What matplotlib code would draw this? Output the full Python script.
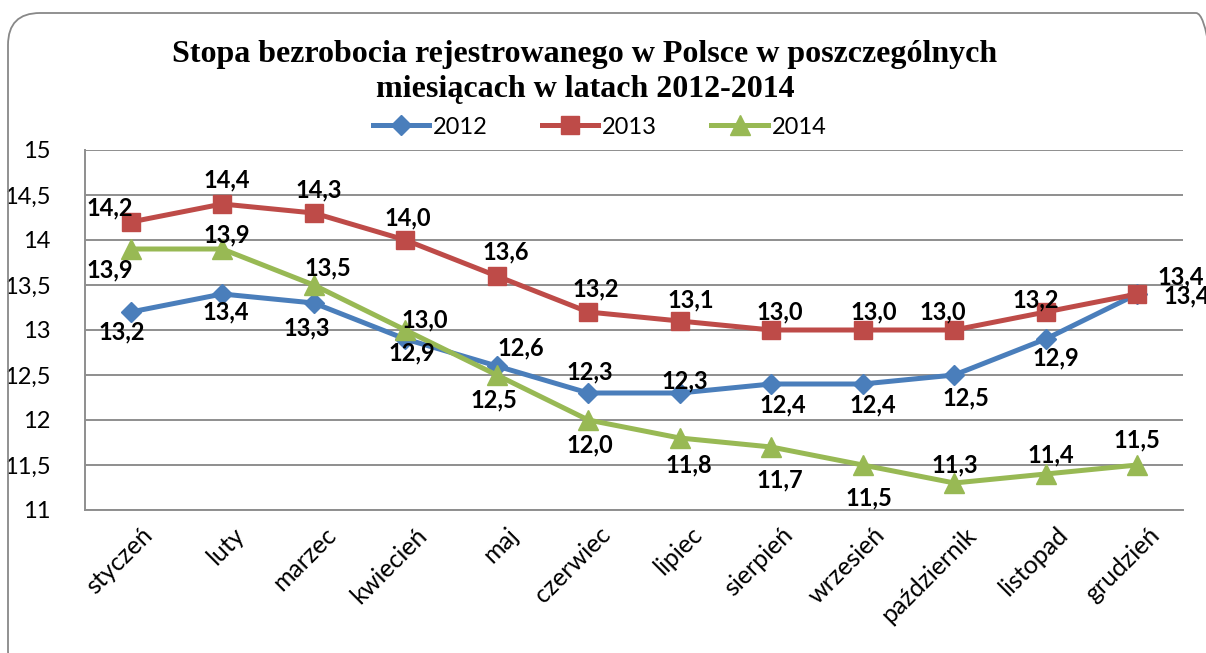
import matplotlib
matplotlib.use('Agg')
import matplotlib.pyplot as plt
import numpy as np
from matplotlib.patches import FancyBboxPatch
from matplotlib.transforms import ScaledTranslation

# dane: stopa bezrobocia [%]
months = ['styczeń', 'luty', 'marzec', 'kwiecień', 'maj', 'czerwiec', 'lipiec',
          'sierpień', 'wrzesień', 'październik', 'listopad', 'grudzień']
rate_2012 = [13.2, 13.4, 13.3, 12.9, 12.6, 12.3, 12.3, 12.4, 12.4, 12.5, 12.9, 13.4]
rate_2013 = [14.2, 14.4, 14.3, 14.0, 13.6, 13.2, 13.1, 13.0, 13.0, 13.0, 13.2, 13.4]
rate_2014 = [13.9, 13.9, 13.5, 13.0, 12.5, 12.0, 11.8, 11.7, 11.5, 11.3, 11.4, 11.5]
years = ['2012', '2013', '2014']
y_ticks = [11, 11.5, 12, 12.5, 13, 13.5, 14, 14.5, 15]

# przesunięcia etykiet danych w pikselach (dx w prawo, dy w dół)
off_2012 = [(-9, 20), (3, 18), (-7, 25), (7, 14), (24, -18), (2, -21),
            (5, -12), (12, 21), (10, 21), (12, 23), (10, 19), (49, 2)]
off_2013 = [(-21, -14), (4, -24), (5, -23), (3, -22), (9, -24), (8, -23),
            (11, -21), (9, -18), (11, -18), (-11, -18), (-10, -12), (43, -17)]
off_2014 = [(-21, 21), (5, -14), (14, -17), (20, -10), (-3, 25), (2, 25),
            (9, 27), (9, 33), (6, 33), (1, -18), (5, -19), (0, -25)]

blue = '#4A7EBB'
red = '#BE4B48'
green = '#98B954'
grid_c = '#8e8e8e'

plt.rcParams['font.family'] = ['Lato', 'DejaVu Sans']


def fmt(v):
    return ('%.1f' % v).replace('.', ',')


def fmt_tick(v):
    if float(v).is_integer():
        return '%d' % v
    return ('%.1f' % v).replace('.', ',')


fig = plt.figure(figsize=(12.06, 6.53), dpi=100, facecolor='w')
ax = fig.add_axes([85/1206, 1-510/653, (1183-85)/1206, 360/653])

x = np.arange(len(months))
series = [(rate_2012, blue, 'D', 10, off_2012),
          (rate_2013, red, 's', 13, off_2013),
          (rate_2014, green, '^', 14, off_2014)]

handles = []
for vals, col, mk, ms, offs in series:
    ln, = ax.plot(x, vals, color=col, lw=3.6, marker=mk, ms=ms,
                  mec=col, mfc=col, zorder=3, clip_on=False)
    handles.append(ln)
    for xi, v, (dx, dy) in zip(x, vals, offs):
        ax.annotate(fmt(v), (xi, v), xytext=(dx, -dy), textcoords='offset pixels',
                    ha='center', va='center', fontsize=17, fontweight='bold',
                    color='black', zorder=5, annotation_clip=False)

ax.set_xlim(-0.5, 11.5)
ax.set_ylim(11, 15)
ax.set_yticks(y_ticks)
ax.set_yticklabels([fmt_tick(t) for t in y_ticks])
ax.yaxis.grid(True, color=grid_c, lw=1.4)
ax.set_axisbelow(True)
ax.set_xticks(x)
ax.set_xticklabels(months, rotation=45, ha='right', va='top',
                   rotation_mode='anchor')
ax.tick_params(axis='y', length=0, pad=25, labelsize=17)
ax.tick_params(axis='x', length=0, pad=0, labelsize=18)
for lab in ax.get_xticklabels():
    lab.set_transform(lab.get_transform() +
                      ScaledTranslation(0.10, -0.13, fig.dpi_scale_trans))

for s in ['top', 'right']:
    ax.spines[s].set_visible(False)
for s in ['left', 'bottom']:
    ax.spines[s].set_color(grid_c)
    ax.spines[s].set_linewidth(1.4)

fig.text(0.485, 1-72/653,
         'Stopa bezrobocia rejestrowanego w Polsce w poszczególnych\nmiesiącach w latach 2012-2014',
         ha='center', va='center', fontsize=23, fontweight='bold',
         family='Liberation Serif', linespacing=1.28)

fig.legend(handles, years, loc='center', bbox_to_anchor=(0.497, 1-127/653),
           ncol=3, frameon=False, fontsize=17, handlelength=2.4,
           columnspacing=2.3, handletextpad=0.15)

# zaokrąglona ramka wykresu (cale)
border = FancyBboxPatch((0.08, -0.3), 12.2, 6.40 + 0.3,
                        boxstyle='round,pad=0,rounding_size=0.32',
                        transform=fig.dpi_scale_trans, fill=False,
                        ec='#888888', lw=1.3)
fig.patches.append(border)

fig.savefig('out.png', dpi=100)
